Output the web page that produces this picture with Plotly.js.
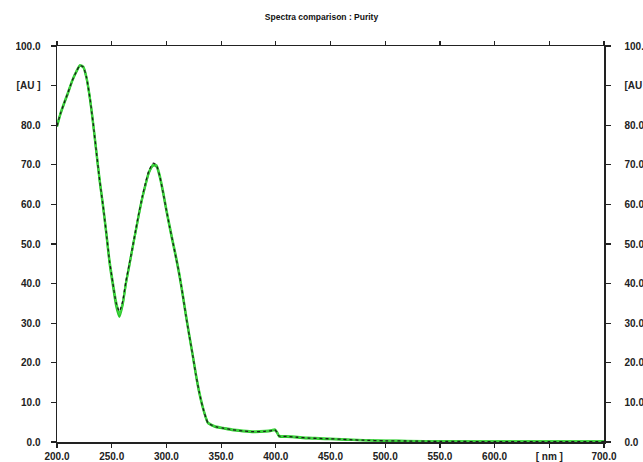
<!DOCTYPE html>
<html>
<head>
<meta charset="utf-8">
<script src="https://cdn.plot.ly/plotly-3.0.1.min.js"></script>
<style>
  html, body { margin: 0; padding: 0; background: #ffffff; }
  #wrap { position: relative; width: 643px; height: 462px; overflow: hidden; }
  #chart { width: 643px; height: 462px; }
  /* the reference picture is cropped along its left edge */
  #crop { position: absolute; left: 0; top: 0; width: 16px; height: 462px; background: #ffffff; z-index: 10; }
</style>
</head>
<body>
<div id="wrap"><div id="chart"></div><div id="crop"></div></div>
<script>
// ---- Data ----
const titleText = "Spectra comparison : Purity";

const wavelength = [200,203,206,210,214,218,221,224,227,230,233,236,239,242,245,248,251,254,257,260,
  263,266,269,272,275,278,281,284,288,291,294,297,300,303,306,309,312,315,318,321,
  324,327,330,333,336,338,342,346,352,360,370,380,390,396,399,401,403,410,420,430,
  440,450,460,470,480,500,520,550,600,650,700];

// reference spectrum (black dotted)
const referenceAU = [79.8,82.8,85.2,88.2,91.3,93.7,95.1,94.7,92.0,87.0,80.6,73.3,66.1,59.9,53.0,45.7,40.2,35.2,33.0,35.5,
  40.5,44.8,49.2,53.6,58.0,62.0,65.5,68.5,70.4,69.8,67.0,63.0,58.5,54.3,50.3,46.3,42.0,37.0,31.7,26.8,
  22.0,17.0,12.6,9.0,6.2,4.8,4.2,3.8,3.5,3.1,2.8,2.6,2.7,2.9,3.1,2.5,1.5,1.4,1.2,1.0,
  0.9,0.8,0.7,0.55,0.45,0.3,0.25,0.15,0.1,0.1,0.1];

// sample spectra (green)
const sampleA_AU = [79.6,82.6,85.0,88.0,91.2,93.6,95.0,94.6,91.8,86.8,80.3,73.0,65.8,59.5,52.6,45.2,39.6,34.4,31.6,34.6,
  40.0,44.4,48.9,53.3,57.7,61.6,65.0,68.0,69.8,69.5,66.8,62.8,58.3,54.1,50.1,46.1,41.8,36.8,31.5,26.6,
  21.8,16.8,12.4,8.9,6.1,4.7,4.1,3.7,3.4,3.0,2.7,2.5,2.6,2.8,3.0,2.4,1.4,1.3,1.1,0.9,
  0.8,0.7,0.6,0.5,0.4,0.3,0.25,0.2,0.15,0.15,0.15];

const sampleB_AU = [79.9,82.9,85.3,88.3,91.4,93.8,95.2,94.8,92.1,87.1,80.8,73.5,66.3,60.1,53.2,45.9,40.5,35.5,32.3,35.0,
  40.2,44.6,49.0,53.4,57.8,61.8,65.2,68.2,70.1,69.9,67.3,63.3,58.8,54.6,50.6,46.6,42.3,37.3,32.0,27.0,
  22.2,17.2,12.8,9.2,6.3,4.9,4.3,3.9,3.6,3.2,2.9,2.7,2.8,3.0,3.2,2.6,1.6,1.5,1.3,1.1,
  1.0,0.85,0.75,0.6,0.5,0.35,0.3,0.2,0.15,0.15,0.15];

const xTickVals = [200,250,300,350,400,450,500,550,600,650,700];
const xTickText = ["200.0","250.0","300.0","350.0","400.0","450.0","500.0","550.0","600.0","[ nm ]","700.0"];
const yTickVals = [0,10,20,30,40,50,60,70,80,90,100];
const yTickText = ["0.0","10.0","20.0","30.0","40.0","50.0","60.0","70.0","80.0","[AU ]","100.0"];

// ---- Plot ----
const traces = [
  { x: wavelength, y: sampleA_AU, type: "scatter", mode: "lines",
    line: { color: "#26c426", width: 2.2, shape: "spline", smoothing: 0.6 }, hoverinfo: "skip" },
  { x: wavelength, y: sampleB_AU, type: "scatter", mode: "lines",
    line: { color: "#3fd43f", width: 2.2, shape: "spline", smoothing: 0.6 }, hoverinfo: "skip" },
  { x: wavelength, y: referenceAU, type: "scatter", mode: "lines", yaxis: "y2",
    line: { color: "#1c1c1c", width: 1.3, dash: "dot", shape: "spline", smoothing: 0.6 }, hoverinfo: "skip" }
];

const tickFont = { family: "Liberation Sans, Arial, sans-serif", size: 10, color: "#222", weight: "bold" };

const layout = {
  width: 643, height: 462,
  margin: { l: 57, r: 39, t: 46, b: 20, pad: 0 },
  paper_bgcolor: "#ffffff", plot_bgcolor: "#ffffff",
  showlegend: false,
  title: { text: titleText, xref: "container", x: 0.5, xanchor: "center",
           yref: "container", y: 0.963, yanchor: "middle",
           font: { family: "Liberation Sans, Arial, sans-serif", size: 8.5, color: "#111", weight: "bold" } },
  xaxis: { range: [200, 700], tickmode: "array", tickvals: xTickVals, ticktext: xTickText,
           showgrid: false, zeroline: false, showline: true, linecolor: "#222", linewidth: 1.5,
           ticks: "outside", ticklen: 4, tickwidth: 1.2, tickcolor: "#222", mirror: "ticks",
           ticklabelstandoff: 0, tickfont: tickFont, fixedrange: true },
  yaxis: { range: [0, 100], tickmode: "array", tickvals: yTickVals, ticktext: yTickText,
           showgrid: false, zeroline: false, showline: true, linecolor: "#222", linewidth: 1.5,
           ticks: "outside", ticklen: 5, tickwidth: 1.2, tickcolor: "#222",
           ticklabelstandoff: 8, tickfont: tickFont, fixedrange: true },
  yaxis2: { range: [0, 100], overlaying: "y", side: "right", tickmode: "array",
            tickvals: yTickVals, ticktext: yTickText,
            showgrid: false, zeroline: false, showline: true, linecolor: "#222", linewidth: 1.5,
            ticks: "outside", ticklen: 5, tickwidth: 1.2, tickcolor: "#222",
            ticklabelstandoff: 12, tickfont: tickFont, fixedrange: true }
};

Plotly.newPlot("chart", traces, layout, { staticPlot: true, displayModeBar: false });
</script>
</body>
</html>
